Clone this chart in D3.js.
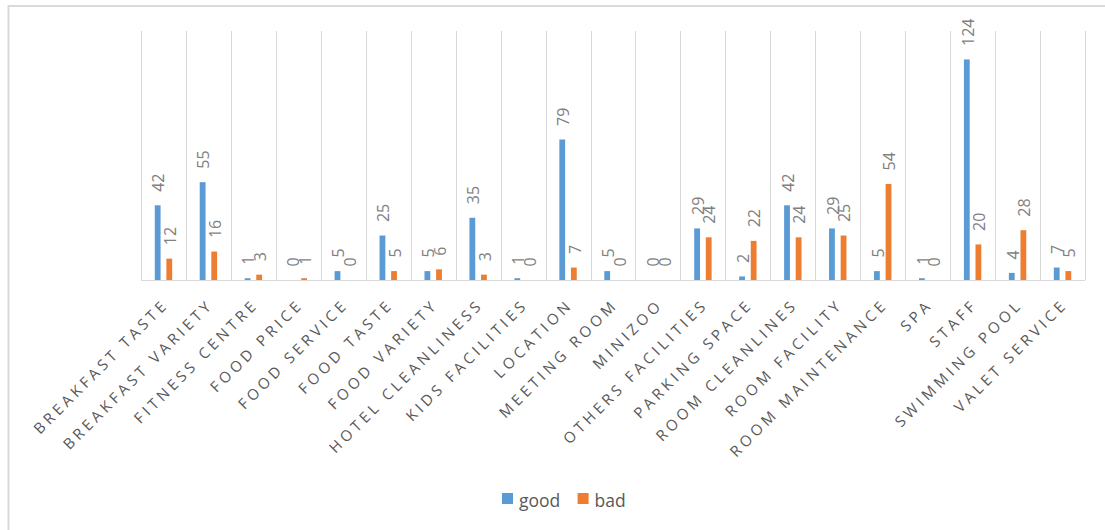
<!DOCTYPE html>
<html>
<head>
<meta charset="utf-8">
<script src="https://cdn.jsdelivr.net/npm/d3@7"></script>
<style>
  html, body { margin: 0; padding: 0; background: #fff; }
  svg { display: block; }
</style>
</head>
<body>
<svg id="chart" width="1105" height="530"></svg>
<script>
// Review topics and how many good / bad mentions each one received
const categories = [
  "BREAKFAST TASTE", "BREAKFAST VARIETY", "FITNESS CENTRE", "FOOD PRICE",
  "FOOD SERVICE", "FOOD TASTE", "FOOD VARIETY", "HOTEL CLEANLINESS",
  "KIDS FACILITIES", "LOCATION", "MEETING ROOM", "MINIZOO",
  "OTHERS FACILITIES", "PARKING SPACE", "ROOM CLEANLINES", "ROOM FACILITY",
  "ROOM MAINTENANCE", "SPA", "STAFF", "SWIMMING POOL", "VALET SERVICE"
];
const good = [42, 55, 1, 0, 5, 25, 5, 35, 1, 79, 5, 0, 29, 2, 42, 29, 5, 1, 124, 4, 7];
const bad  = [12, 16, 3, 1, 0, 5, 6, 3, 0, 7, 0, 0, 24, 22, 24, 25, 54, 0, 20, 28, 5];
const seriesNames = ["good", "bad"];
const seriesColors = ["#5B9BD5", "#ED7D31"];
const yMax = 140;

const rows = categories.map((c, i) => ({ cat: c, good: good[i], bad: bad[i] }));

const svg = d3.select("#chart");
const plot = { left: 141, right: 1085, top: 31, bottom: 280 };

// outer chart frame
svg.append("rect")
  .attr("x", 8.5).attr("y", 6)
  .attr("width", 1120).attr("height", 540)
  .attr("fill", "none")
  .attr("stroke", "#d9d9d9")
  .attr("stroke-width", 2);

const x0 = d3.scaleBand()
  .domain(categories)
  .range([plot.left, plot.right])
  .paddingInner(0.613)
  .paddingOuter(0.3065);

const x1 = d3.scaleBand()
  .domain(seriesNames)
  .range([0, x0.bandwidth()])
  .paddingInner(0.5);

const y = d3.scaleLinear().domain([0, yMax]).range([plot.bottom, plot.top]);
const color = d3.scaleOrdinal().domain(seriesNames).range(seriesColors);

// vertical separators between categories
const step = x0.step();
const bounds = d3.range(categories.length + 1).map(i => plot.left + i * step);
svg.append("g")
  .selectAll("line")
  .data(bounds)
  .join("line")
  .attr("x1", d => Math.round(d) + 0.5)
  .attr("x2", d => Math.round(d) + 0.5)
  .attr("y1", plot.top)
  .attr("y2", plot.bottom)
  .attr("stroke", "#d9d9d9")
  .attr("stroke-width", 1);

// category axis along the baseline
const xAxis = svg.append("g")
  .attr("transform", `translate(0,${plot.bottom + 0.5})`)
  .call(d3.axisBottom(x0).tickSize(0).tickPadding(0));
xAxis.select(".domain").attr("stroke", "#d9d9d9").attr("d", `M${plot.left},0H${plot.right}`);
xAxis.selectAll(".tick text")
  .attr("font-family", "'Open Sans', sans-serif")
  .attr("font-size", 15)
  .attr("letter-spacing", "3.8px")
  .attr("fill", "#595959")
  .attr("text-anchor", "end")
  .attr("dy", 0)
  .attr("y", 0)
  .attr("transform", "translate(6,25) rotate(-45)");

// grouped bars
const groups = svg.append("g")
  .selectAll("g")
  .data(rows)
  .join("g")
  .attr("transform", d => `translate(${x0(d.cat)},0)`);

groups.selectAll("rect")
  .data(d => seriesNames.map(k => ({ key: k, value: d[k] })))
  .join("rect")
  .attr("x", d => x1(d.key))
  .attr("width", x1.bandwidth())
  .attr("y", d => y(d.value))
  .attr("height", d => y(0) - y(d.value))
  .attr("fill", d => color(d.key));

// value labels, rotated, above each bar
groups.selectAll("text")
  .data(d => seriesNames.map(k => ({ key: k, value: d[k] })))
  .join("text")
  .attr("transform", d => `translate(${x1(d.key) + x1.bandwidth() / 2 + 1},${y(d.value) - 13.5}) rotate(-90)`)
  .attr("dy", "0.36em")
  .attr("text-anchor", "start")
  .attr("font-family", "'Open Sans', sans-serif")
  .attr("font-size", 16)
  .attr("fill", "#7f7f7f")
  .text(d => d.value);

// legend
const legend = svg.append("g").attr("transform", "translate(502,493)");
const legendItems = legend.selectAll("g")
  .data(seriesNames)
  .join("g")
  .attr("transform", (d, i) => `translate(${i * 75.6},0)`);
legendItems.append("rect")
  .attr("width", 11).attr("height", 11)
  .attr("fill", d => color(d));
legendItems.append("text")
  .attr("x", 17).attr("y", 13.5)
  .attr("font-family", "'Open Sans', sans-serif")
  .attr("font-size", 17.5)
  .attr("fill", "#595959")
  .text(d => d);
</script>
</body>
</html>
